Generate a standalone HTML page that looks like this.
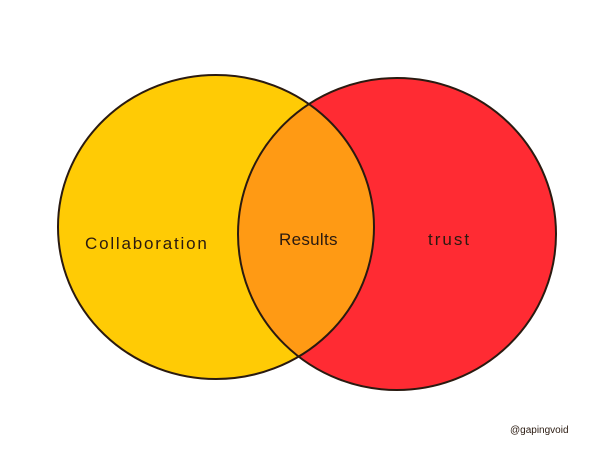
<!DOCTYPE html>
<html><head><meta charset="utf-8"><style>
html,body{margin:0;padding:0;background:#fff;}
svg{display:block;}
text{font-family:"Liberation Sans",sans-serif;fill:#2a1a10;}
</style></head><body>
<svg width="600" height="471" viewBox="0 0 600 471">
<defs>
<clipPath id="cy"><ellipse cx="216" cy="227" rx="158" ry="152"/></clipPath>
</defs>
<rect width="600" height="471" fill="#fff"/>
<ellipse cx="216" cy="227" rx="158" ry="152" fill="#FFCB05"/>
<ellipse cx="397" cy="234" rx="159" ry="156" fill="#FF2B33"/>
<ellipse cx="397" cy="234" rx="159" ry="156" fill="#FF9A14" clip-path="url(#cy)"/>
<ellipse cx="216" cy="227" rx="158" ry="152" fill="none" stroke="#2a1a10" stroke-width="2"/>
<ellipse cx="397" cy="234" rx="159" ry="156" fill="none" stroke="#2a1a10" stroke-width="2"/>
<text x="85" y="249" font-size="17" letter-spacing="1.8">Collaboration</text>
<text x="279" y="245" font-size="17" letter-spacing="0.3">Results</text>
<text x="428" y="245" font-size="17" letter-spacing="2">trust</text>
<text x="510" y="433" font-size="10">@gapingvoid</text>
</svg>
</body></html>
